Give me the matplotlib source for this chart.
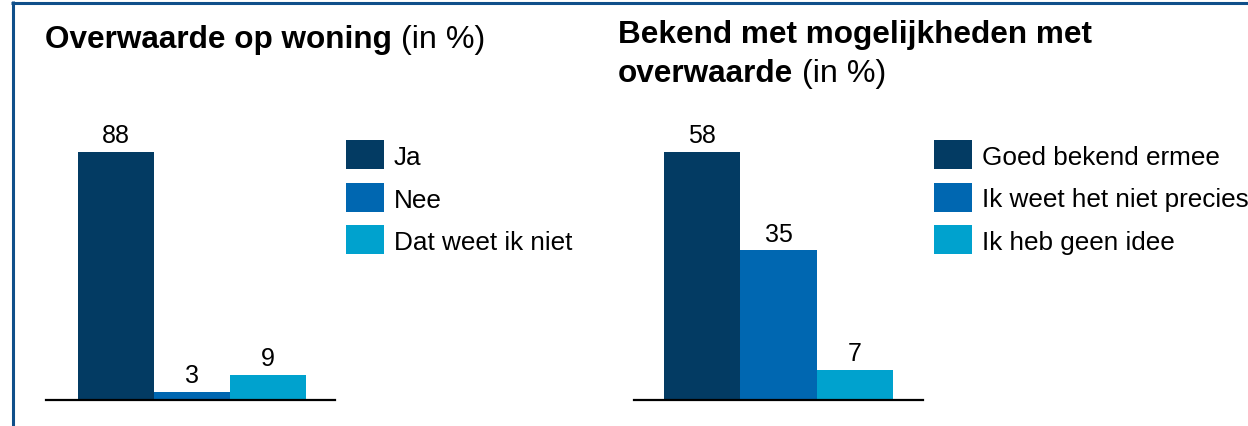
import matplotlib
matplotlib.use("Agg")
import matplotlib.pyplot as plt
from matplotlib.patches import Rectangle
from matplotlib.lines import Line2D

# ---- data ----
left_categories = ["Ja", "Nee", "Dat weet ik niet"]
left_values = [88, 3, 9]
right_categories = ["Goed bekend ermee", "Ik weet het niet precies", "Ik heb geen idee"]
right_values = [58, 35, 7]
colors = ["#033b63", "#0067b1", "#00a2ce"]

W, H = 1248, 427
DPI = 100
plt.rcParams["font.family"] = ["Liberation Sans", "DejaVu Sans"]

fig = plt.figure(figsize=(W / DPI, H / DPI), dpi=DPI)
fig.patch.set_facecolor("white")


def fx(x):
    return x / W


def fy(y):
    return 1 - y / H


def make_axes(x0, x1, xlim, values, cats):
    ax = fig.add_axes([fx(x0), fy(401), fx(x1 - x0), (401 - 153) / H])
    pos = list(range(len(values)))
    ax.bar(pos, values, width=1.0, color=colors, linewidth=0)
    ax.set_xlim(*xlim)
    ax.set_ylim(0, max(values))
    for p, v in zip(pos, values):
        ax.annotate(str(v), (p, v), xytext=(0, 7), textcoords="offset points",
                    ha="center", va="baseline", fontsize=18, color="black",
                    annotation_clip=False)
    for s in ["top", "left", "right"]:
        ax.spines[s].set_visible(False)
    ax.spines["bottom"].set_linewidth(1.6)
    ax.spines["bottom"].set_color("black")
    ax.set_xticks([])
    ax.set_yticks([])
    ax.patch.set_alpha(0)
    return ax


make_axes(46, 335, (-0.921, 2.88), left_values, left_categories)
make_axes(634, 923, (-0.893, 2.893), right_values, right_categories)

# legends
def legend(xsq, xtext, cats):
    ys = [141, 183.5, 226]
    for c, col, y in zip(cats, colors, ys):
        fig.add_artist(Rectangle((fx(xsq), fy(y + 29)), 38 / W, 29 / H,
                                 transform=fig.transFigure, color=col, lw=0))
        fig.text(fx(xtext), fy(y + 14.5), c, fontsize=18.8, va="center_baseline",
                 ha="left", color="black")


legend(346, 394, left_categories)
legend(934, 982, right_categories)

# titles
renderer = fig.canvas.get_renderer()


def title_line(x, y, bold, regular, gap=0):
    t = fig.text(fx(x), fy(y), bold, fontsize=22.7, fontweight="bold",
                 va="baseline", ha="left", color="black")
    if regular:
        bb = t.get_window_extent(renderer)
        fig.text((bb.x1 + gap) / W, fy(y), regular, fontsize=23.2, va="baseline",
                 ha="left", color="black")


title_line(45, 48.3, "Overwaarde op woning", " (in %)")
title_line(618, 43.3, "Bekend met mogelijkheden met", None)
title_line(618, 81.7, "overwaarde", " (in %)")

# border
border_col = "#0f4f8a"
fig.add_artist(Line2D([fx(12.5), fx(12.5)], [0, fy(2)], transform=fig.transFigure,
                      color=border_col, lw=2.2, solid_capstyle="butt"))
fig.add_artist(Line2D([fx(11), 1], [fy(3.5), fy(3.5)], transform=fig.transFigure,
                      color=border_col, lw=2.2, solid_capstyle="butt"))

fig.savefig("out.png", dpi=DPI, facecolor="white")
